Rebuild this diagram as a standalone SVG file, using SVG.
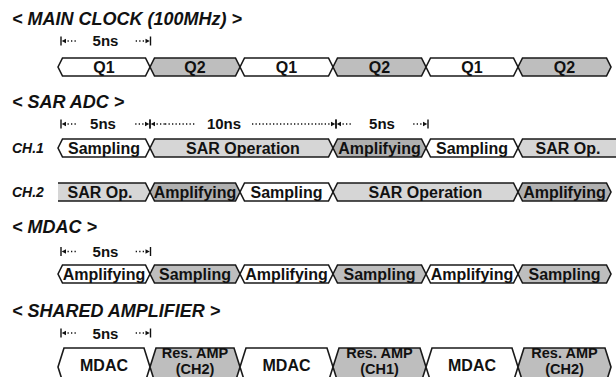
<svg xmlns="http://www.w3.org/2000/svg" xmlns:xlink="http://www.w3.org/1999/xlink" width="616" height="377" viewBox="0 0 616 377">
<defs>
<style>
.title{font-family:"Liberation Sans",Arial,sans-serif;font-weight:bold;font-style:italic;font-size:18px;fill:#111}
.ch{font-family:"Liberation Sans",Arial,sans-serif;font-weight:bold;font-style:italic;font-size:14px;fill:#111}
.lbl{font-family:"Liberation Sans",Arial,sans-serif;font-weight:bold;font-size:16px;fill:#111;text-anchor:middle}
.lbs{font-family:"Liberation Sans",Arial,sans-serif;font-weight:bold;font-size:14.5px;fill:#111;text-anchor:middle}
.dim{font-family:"Liberation Sans",Arial,sans-serif;font-weight:bold;font-size:15px;fill:#111;text-anchor:middle}
.w{fill:#fff;stroke:#1a1a1a;stroke-width:1.6;stroke-linejoin:miter}
.g{fill:#bebebe;stroke:#1a1a1a;stroke-width:1.6}
.l{fill:#d6d6d6;stroke:#1a1a1a;stroke-width:1.6}
.d{fill:#b0b0b0;stroke:#1a1a1a;stroke-width:1.6}
.nf{fill:none;stroke:#1a1a1a;stroke-width:1.6}
.bar{stroke:#111;stroke-width:1.4}
.dot{stroke:#111;stroke-width:1.3;stroke-dasharray:1.3 2.2;fill:none}
</style>
<g id="dl">
<line class="bar" x1="0" y1="-4.5" x2="0" y2="4.5"/>
<polygon points="0.7,0 5,-2.3 5,2.3" fill="#111"/>
<line class="dot" x1="6.5" y1="0" x2="15" y2="0"/>
</g>
<g id="dr">
<line class="bar" x1="0" y1="-4.5" x2="0" y2="4.5"/>
<polygon points="-0.7,0 -5,-2.3 -5,2.3" fill="#111"/>
<line class="dot" x1="-6.5" y1="0" x2="-15" y2="0"/>
</g>
</defs>
<rect width="616" height="377" fill="#fff"/>

<!-- titles -->
<text class="title" x="12" y="25">&lt; MAIN CLOCK (100MHz) &gt;</text>
<text class="title" x="12" y="108">&lt; SAR ADC &gt;</text>
<text class="title" x="12" y="233">&lt; MDAC &gt;</text>
<text class="title" x="12" y="317">&lt; SHARED AMPLIFIER &gt;</text>
<text class="ch" x="12" y="153">CH.1</text>
<text class="ch" x="12" y="197">CH.2</text>

<!-- dimension markers -->
<g id="connectors">
<use xlink:href="#dl" x="61" y="41"/><use xlink:href="#dr" x="150.5" y="41"/>
<text class="dim" x="105.5" y="46">5ns</text>

<use xlink:href="#dl" x="61" y="124"/><use xlink:href="#dr" x="150" y="124"/>
<text class="dim" x="103" y="128.5">5ns</text>
<use xlink:href="#dl" x="150" y="124"/>
<line class="dot" x1="165" y1="124" x2="195" y2="124"/>
<text class="dim" x="224" y="128.5">10ns</text>
<line class="dot" x1="252" y1="124" x2="322" y2="124"/>
<use xlink:href="#dr" x="336" y="124"/><use xlink:href="#dl" x="336" y="124"/>
<text class="dim" x="382" y="128.5">5ns</text>
<use xlink:href="#dr" x="428" y="124"/>

<use xlink:href="#dl" x="61" y="251.5"/><use xlink:href="#dr" x="150.5" y="251.5"/>
<text class="dim" x="105.5" y="256.5">5ns</text>

<use xlink:href="#dl" x="61" y="333"/><use xlink:href="#dr" x="150.5" y="333"/>
<text class="dim" x="105.5" y="338.5">5ns</text>
</g>

<!-- MAIN CLOCK -->
<g id="clk1"><polygon class="w" points="58,67 62.5,58 145.5,58 150,67 145.5,76 62.5,76"/><text class="lbl" x="104" y="72.5">Q1</text></g>
<g id="clk2"><polygon class="g" points="150,67 154.5,58 235.5,58 240,67 235.5,76 154.5,76"/><text class="lbl" x="195" y="72.5">Q2</text></g>
<g id="clk3"><polygon class="w" points="240,67 244.5,58 328.5,58 333,67 328.5,76 244.5,76"/><text class="lbl" x="286.5" y="72.5">Q1</text></g>
<g id="clk4"><polygon class="g" points="333,67 337.5,58 421.5,58 426,67 421.5,76 337.5,76"/><text class="lbl" x="379.5" y="72.5">Q2</text></g>
<g id="clk5"><polygon class="w" points="426,67 430.5,58 513.5,58 518,67 513.5,76 430.5,76"/><text class="lbl" x="472" y="72.5">Q1</text></g>
<g id="clk6"><polygon class="g" points="518,67 522.5,58 606.5,58 611,67 606.5,76 522.5,76"/><text class="lbl" x="564.5" y="72.5">Q2</text></g>

<!-- SAR ADC CH.1 -->
<g id="ch1a"><polygon class="w" points="58,148 62.5,139 145.5,139 150,148 145.5,157 62.5,157"/><text class="lbl" x="104" y="153.5">Sampling</text></g>
<g id="ch1b"><polygon class="l" points="150,148 154.5,139 328.5,139 333,148 328.5,157 154.5,157"/><text class="lbl" x="243" y="153.5">SAR Operation</text></g>
<g id="ch1c"><polygon class="d" points="333,148 337.5,139 421.5,139 426,148 421.5,157 337.5,157"/><text class="lbl" x="379.5" y="153.5">Amplifying</text></g>
<g id="ch1d"><polygon class="w" points="426,148 430.5,139 513.5,139 518,148 513.5,157 430.5,157"/><text class="lbl" x="472" y="153.5">Sampling</text></g>
<g id="ch1e"><polygon class="l" points="518,148 522.5,139 622,139 622,157 522.5,157"/><text class="lbl" x="568" y="153.5">SAR Op.</text></g>

<!-- SAR ADC CH.2 -->
<g id="ch2a"><polygon points="58,183 145.5,183 150,192 145.5,201 58,201" fill="#d6d6d6"/><polyline class="nf" points="58,183 145.5,183 150,192 145.5,201 58,201"/><text class="lbl" x="100" y="197.5">SAR Op.</text></g>
<g id="ch2b"><polygon class="d" points="150,192 154.5,183 235.5,183 240,192 235.5,201 154.5,201"/><text class="lbl" x="195" y="197.5">Amplifying</text></g>
<g id="ch2c"><polygon class="w" points="240,192 244.5,183 328.5,183 333,192 328.5,201 244.5,201"/><text class="lbl" x="286.5" y="197.5">Sampling</text></g>
<g id="ch2d"><polygon class="l" points="333,192 337.5,183 513.5,183 518,192 513.5,201 337.5,201"/><text class="lbl" x="425.5" y="197.5">SAR Operation</text></g>
<g id="ch2e"><polygon class="d" points="518,192 522.5,183 606.5,183 611,192 606.5,201 522.5,201"/><text class="lbl" x="564.5" y="197.5">Amplifying</text></g>

<!-- MDAC -->
<g id="m1"><polygon class="w" points="58,274 62.5,265 145.5,265 150,274 145.5,283 62.5,283"/><text class="lbl" x="104" y="279.5">Amplifying</text></g>
<g id="m2"><polygon class="g" points="150,274 154.5,265 235.5,265 240,274 235.5,283 154.5,283"/><text class="lbl" x="195" y="279.5">Sampling</text></g>
<g id="m3"><polygon class="w" points="240,274 244.5,265 328.5,265 333,274 328.5,283 244.5,283"/><text class="lbl" x="286.5" y="279.5">Amplifying</text></g>
<g id="m4"><polygon class="g" points="333,274 337.5,265 421.5,265 426,274 421.5,283 337.5,283"/><text class="lbl" x="379.5" y="279.5">Sampling</text></g>
<g id="m5"><polygon class="w" points="426,274 430.5,265 513.5,265 518,274 513.5,283 430.5,283"/><text class="lbl" x="472" y="279.5">Amplifying</text></g>
<g id="m6"><polygon class="g" points="518,274 522.5,265 606.5,265 611,274 606.5,283 522.5,283"/><text class="lbl" x="564.5" y="279.5">Sampling</text></g>

<!-- SHARED AMPLIFIER -->
<g id="s1"><polygon class="w" points="58,367 64,348 144,348 150,367 144,386 64,386"/><text class="lbl" x="104" y="371">MDAC</text></g>
<g id="s2"><polygon class="g" points="150,367 156,348 234,348 240,367 234,386 156,386"/><text class="lbs" x="195" y="357.5">Res. AMP</text><text class="lbs" x="195" y="374">(CH2)</text></g>
<g id="s3"><polygon class="w" points="240,367 246,348 327,348 333,367 327,386 246,386"/><text class="lbl" x="286.5" y="371">MDAC</text></g>
<g id="s4"><polygon class="g" points="333,367 339,348 420,348 426,367 420,386 339,386"/><text class="lbs" x="379.5" y="357.5">Res. AMP</text><text class="lbs" x="379.5" y="374">(CH1)</text></g>
<g id="s5"><polygon class="w" points="426,367 432,348 512,348 518,367 512,386 432,386"/><text class="lbl" x="472" y="371">MDAC</text></g>
<g id="s6"><polygon class="g" points="518,367 524,348 605,348 611,367 605,386 524,386"/><text class="lbs" x="564.5" y="357.5">Res. AMP</text><text class="lbs" x="564.5" y="374">(CH2)</text></g>
</svg>
